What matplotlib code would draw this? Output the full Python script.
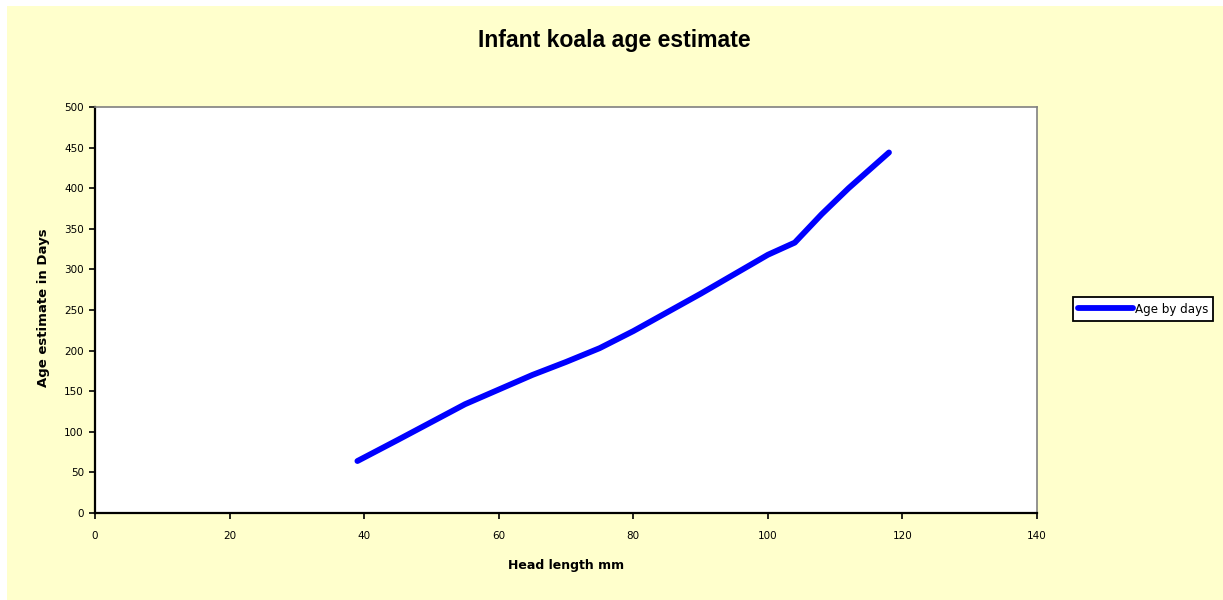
import matplotlib
matplotlib.use("Agg")
import matplotlib.pyplot as plt
from matplotlib.patches import Rectangle

plt.rcParams.update({"font.family": ["DejaVu Sans"]})

# Head length (mm) vs estimated age (days)
head_mm = [39, 45, 50, 55, 60, 65, 70, 75, 80, 85, 90, 95, 100, 104, 108, 112, 115, 118]
age_days = [64, 90, 112, 134, 152, 170, 186, 203, 224, 247, 270, 294, 318, 333, 368, 400, 422, 444]

x_ticks = list(range(0, 141, 20))
y_ticks = list(range(0, 501, 50))

BG = "#ffffcc"

fig = plt.figure(figsize=(12.23, 6.0), dpi=100)
fig.patch.set_facecolor("white")
# pale yellow chart area, slightly inset from the top/left like the original
fig.patches.append(Rectangle((7 / 1223, 0), 1 - 7 / 1223, 1 - 6 / 600,
                             transform=fig.transFigure, facecolor=BG,
                             edgecolor="none", zorder=-10))

ax = fig.add_axes([95 / 1223, 1 - 513 / 600, (1037 - 95) / 1223, (513 - 107) / 600])
ax.set_facecolor("white")

line, = ax.plot(head_mm, age_days, color="#0000ff", lw=4.2,
                solid_capstyle="round", solid_joinstyle="round",
                label="Age by days")

ax.set_xlim(0, 140)
ax.set_ylim(0, 500)
ax.set_xticks(x_ticks)
ax.set_yticks(y_ticks)
ax.tick_params(direction="out", length=4, width=1.2, labelsize=7.5,
               colors="black", pad=4)
ax.tick_params(axis="x", pad=9)

for side in ("left", "bottom"):
    ax.spines[side].set_linewidth(1.6)
    ax.spines[side].set_color("black")
for side in ("top", "right"):
    ax.spines[side].set_linewidth(1.2)
    ax.spines[side].set_color("#808080")

fig.text(614 / 1223, 1 - 40 / 600, "Infant koala age estimate",
         ha="center", va="center", fontsize=16.6, fontweight="bold",
         family="Liberation Sans")
fig.text(566 / 1223, 1 - 565 / 600, "Head length mm",
         ha="center", va="center", fontsize=9, fontweight="bold")
fig.text(44 / 1223, 1 - 308 / 600, "Age estimate in Days", rotation=90,
         ha="center", va="center", fontsize=9.5, fontweight="bold")

leg = fig.legend(handles=[line], loc="center left",
                 bbox_to_anchor=(1073 / 1223, 1 - 309 / 600),
                 frameon=True, fancybox=False, fontsize=8.6,
                 handlelength=4.6, handletextpad=0.1, borderpad=0.45,
                 borderaxespad=0)
leg.get_frame().set_edgecolor("black")
leg.get_frame().set_linewidth(1.3)
leg.get_frame().set_facecolor("white")
leg.get_frame().set_alpha(1)

fig.savefig("out.png", dpi=100, facecolor=fig.get_facecolor())
